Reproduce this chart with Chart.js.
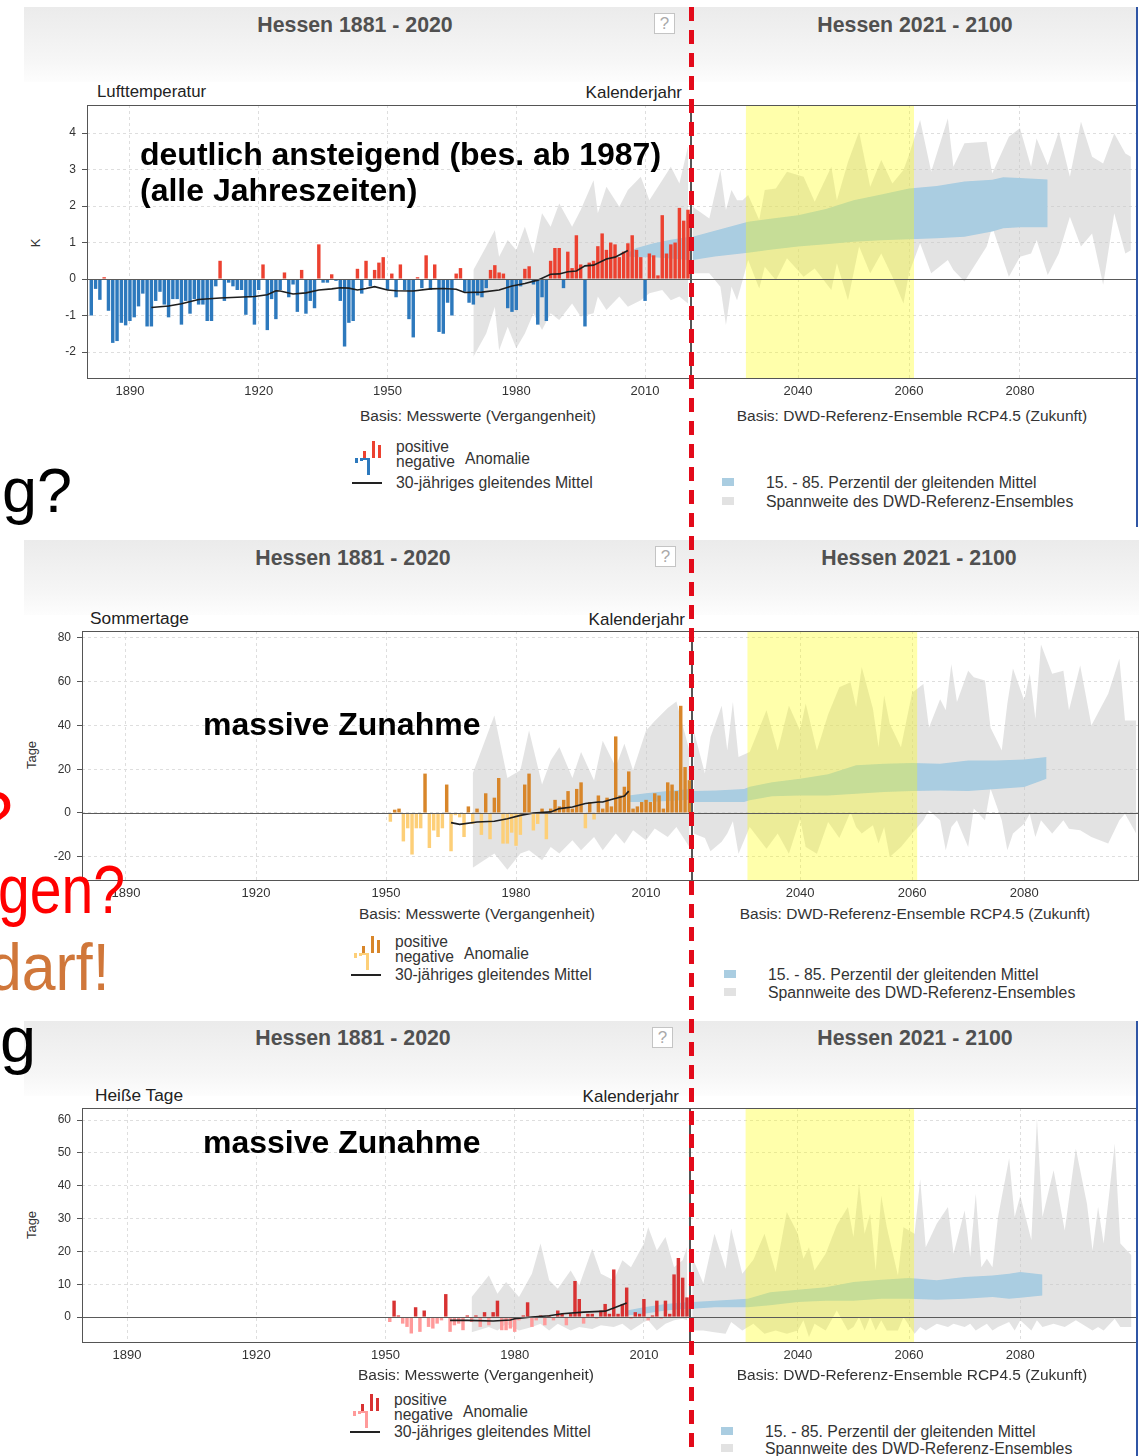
<!DOCTYPE html>
<html>
<head>
<meta charset="utf-8">
<script src="https://cdn.jsdelivr.net/npm/chart.js@4.4.0/dist/chart.umd.min.js"></script>
<style>
  body { margin: 0; width: 1145px; height: 1456px; position: relative; overflow: hidden; background: #fff;
         font-family: "Liberation Sans", Arial, sans-serif; }
  .t { position: absolute; white-space: nowrap; line-height: 1; }
  .qbox { position: absolute; width: 19px; height: 19px; border: 1px solid #c4c4c4; background: #fff;
          color: #aaa; font-size: 17px; line-height: 19px; text-align: center; }
  canvas { position: absolute; }
  .redline { position: absolute; left: 689px; top: 7px; width: 5px; height: 1449px;
             background: repeating-linear-gradient(to bottom, #e30a1a 0 14px, transparent 14px 23px); }
</style>
</head>
<body>
<script>
// --- Lufttemperatur (K), annual anomaly 1881-2020 ---
const tempAnom = [
  -1.0, -0.27, -0.57, 0.05, -0.87, -1.75, -1.7, -1.2, -1.27, -1.15,
  -1.05, -0.75, -0.4, -1.3, -1.3, -0.6, -0.35, -0.7, -1.05, -0.55,
  -0.55, -1.25, -0.6, -0.95, -0.55, -0.7, -0.7, -1.15, -1.15, -0.2,
  0.5, -0.6, -0.1, -0.2, -0.3, -0.3, -0.98, -0.5, -1.25, -0.3,
  0.4, -1.4, -0.55, -1.1, -0.3, 0.18, -0.5, -0.15, -0.9, 0.25,
  -0.95, -0.6, -0.8, 0.95, -0.1, -0.1, 0.13, -0.05, -0.6, -1.85,
  -1.2, -1.15, 0.28, -0.4, 0.5, -0.2, 0.25, 0.45, 0.6, -0.3,
  0.15, -0.5, 0.4, -0.3, -1.1, -1.6, 0.05, -0.25, 0.65, -0.3,
  0.4, -1.45, -1.5, -0.65, -1.0, 0.15, 0.3, -0.35, -0.65, -0.7,
  -0.45, -0.5, -0.25, 0.25, 0.38, 0.18, 0.15, -0.8, -0.9, -0.85,
  -0.2, 0.28, 0.35, -0.15, -1.25, -0.5, -1.15, 0.5, 0.85, 0.85,
  -0.25, 0.75, 0.3, 1.2, 0.4, -1.3, 0.45, 0.5, 0.9, 1.25,
  0.8, 1.0, 0.95, 0.6, 0.75, 0.98, 1.2, 0.8, 0.6, -0.6,
  0.7, 0.65, 0.1, 1.75, 0.7, 0.95, 1.0, 1.95, 1.6, 1.9
];
const tempYears = tempAnom.map((_, i) => 1881 + i);
const tempMeanYears = [1895, 1899, 1902, 1906, 1911, 1915, 1919, 1922, 1924, 1925, 1928, 1931, 1934, 1937, 1939,
  1941, 1943, 1945, 1947, 1950, 1952, 1956, 1960, 1963, 1966, 1968, 1972, 1976, 1979, 1982, 1985, 1988,
  1990, 1992, 1994, 1996, 1998, 2001, 2003, 2005, 2006];
const tempMean = [-0.78, -0.74, -0.68, -0.56, -0.52, -0.5, -0.48, -0.43, -0.32, -0.33, -0.41, -0.38, -0.3, -0.27, -0.24,
  -0.25, -0.3, -0.26, -0.21, -0.3, -0.32, -0.33, -0.27, -0.26, -0.28, -0.37, -0.36, -0.3, -0.19, -0.12, -0.03, 0.13,
  0.14, 0.2, 0.22, 0.36, 0.38, 0.55, 0.6, 0.72, 0.78];
const tempRangePastYears = [1970, 1973, 1975, 1976, 1978, 1980, 1982, 1984, 1986, 1988, 1990, 1993, 1995, 1998, 1999,
  2001, 2004, 2006, 2009, 2011, 2014, 2016, 2018, 2020];
const tempRangePastHi = [0.25, 0.89, 1.34, 0.61, 1.07, 0.79, 1.43, 0.7, 1.8, 1.43, 2.07, 1.43, 1.89, 2.71, 1.8,
  2.53, 1.98, 2.44, 2.8, 2.16, 2.71, 3.08, 2.62, 3.63];
const tempRangePastLo = [-2.13, -1.49, -0.76, -1.95, -1.31, -1.9, -1.49, -0.94, -1.4, -0.94, -1.12, -0.67, -1.03, -0.94, -0.48,
  -0.85, -0.48, -0.76, -0.58, -0.39, -0.3, -0.58, -0.48, -0.67];
const tempPctPastYears = [2006, 2008, 2012, 2016, 2020];
const tempPctPastHi = [0.72, 0.85, 0.98, 1.08, 1.15];
const tempPctPastLo = [0.62, 0.6, 0.6, 0.56, 0.52];
const tempRangeFutYears = [2021, 2024, 2026, 2027, 2028, 2029, 2030, 2031, 2033, 2034, 2036, 2038, 2041, 2043, 2046,
  2047, 2049, 2051, 2053, 2055, 2057, 2059, 2060, 2062, 2064, 2067, 2068, 2070, 2074, 2075, 2078, 2080, 2082, 2083,
  2085, 2087, 2089, 2091, 2093, 2095, 2097, 2099, 2100];
const tempRangeFutHi = [1.98, 1.66, 2.99, 1.89, 2.44, 2.16, 2.16, 2.3, 1.62, 2.44, 2.48, 2.94, 2.8, 2.12, 3.08,
  2.16, 3.21, 4.04, 2.53, 3.26, 2.62, 2.99, 3.4, 4.36, 2.94, 4.4, 3.08, 3.72, 3.76, 2.89, 3.9, 4.13, 3.08, 3.85,
  3.12, 4.04, 2.8, 4.31, 3.35, 3.17, 3.99, 3.44, 3.35];
const tempRangeFutLo = [0.16, 0.16, -0.21, -1.26, -0.21, -0.58, -0.03, 0.52, -0.26, 0.34, -0.03, 0.57, 0.06, 0.29, -0.3,
  0.43, -0.58, 0.89, 0.16, 0.7, 0.06, -0.67, 0.16, 0.98, 0.16, 0.52, 0.25, -0.07, 0.89, 1.43, 0.06, 0.61, 0.7, 1.07,
  0.11, 0.7, 1.71, 0.89, 1.25, -0.16, 1.8, 0.7, 0.79];
const tempPctFutYears = [2021, 2025, 2031, 2035, 2040, 2045, 2050, 2055, 2060, 2065, 2070, 2075, 2077, 2080, 2085];
const tempPctFutHi = [1.16, 1.32, 1.57, 1.65, 1.75, 1.92, 2.16, 2.32, 2.48, 2.55, 2.67, 2.72, 2.79, 2.77, 2.73];
const tempPctFutLo = [0.52, 0.62, 0.72, 0.8, 0.89, 0.95, 1.02, 1.06, 1.09, 1.12, 1.16, 1.3, 1.39, 1.42, 1.42];

// --- Sommertage (days), anomaly 1951-2020 ---
const summerAnom = [
  -4, 1.5, 2, -13, -7, -19, -7, -7, 18, -16,
  -8, -11, -7, 13, -17.5, -1, -2, -11, 3, -5,
  2, -10, 9, -12, 7, 16, -14, -14, -9, -15,
  -10, 13, 18, -8, -5, 2, -12, 2, 6, 3,
  6, 10, 2, 11, 14, -7, 5, -3, 8, 2,
  7, 3, 35, 8, 12, 19, 2, 3, 5, 6,
  5, 9, 8, 2, 14, 13, 10, 49, 21, 15
];
const summerYears = summerAnom.map((_, i) => 1951 + i);
const summerMeanYears = [1965, 1967, 1971, 1975, 1978, 1981, 1984, 1988, 1990, 1993, 1996, 1999, 2000, 2002, 2005, 2006];
const summerMean = [-4.4, -5.2, -4.1, -3.8, -2.6, -1.1, 0, 0.5, 2, 2.7, 4.3, 5, 5, 6.2, 7.8, 10];
const summerRangePastYears = [1970, 1975, 1978, 1981, 1983, 1986, 1988, 1990, 1993, 1995, 1998, 2000, 2003, 2005,
  2007, 2010, 2012, 2015, 2017, 2020];
const summerRangePastHi = [18, 44.6, 16, 19.5, 37.7, 13, 24, 30, 16, 27.9, 14.9, 33, 21, 31.7, 19.5, 37.7, 42, 48, 51, 28.6];
const summerRangePastLo = [-25, -18.5, -26, -18.5, -17, -21.6, -15.5, -18.5, -12.5, -17, -11, -17, -9.4, -14, -7.9,
  -12.5, -7.1, -11, -6.4, -15.5];
const summerPctPastYears = [2006, 2010, 2015, 2020];
const summerPctPastHi = [8, 9, 10, 11];
const summerPctPastLo = [5, 5, 5.5, 6];
const summerRangeFutYears = [2021, 2023, 2024, 2026, 2027, 2028, 2029, 2031, 2034, 2036, 2038, 2040, 2041, 2043, 2045,
  2047, 2049, 2050, 2051, 2053, 2054, 2055, 2056, 2058, 2060, 2062, 2063, 2065, 2066, 2067, 2068, 2070, 2071, 2073,
  2074, 2076, 2077, 2078, 2080, 2081, 2082, 2083, 2085, 2087, 2088, 2090, 2092, 2095, 2097, 2098, 2100];
const summerRangeFutHi = [37.7, 18, 34.7, 49, 28.6, 50.7, 25.6, 27.9, 47, 28.6, 49, 37.7, 50, 28.6, 45,
  57.5, 59.8, 48.4, 66.7, 47.6, 30, 53.7, 40.8, 30, 55, 59, 39, 52, 47, 68, 50.7, 65, 62, 60.6,
  39, 28.6, 50, 66, 51.4, 63.6, 43, 77, 63.6, 65, 47, 67.4, 40, 54.5, 70.5, 42.3, 42.3];
const summerRangeFutLo = [-9.4, -11.4, -17.5, -13.2, -9.4, -3.8, -18.6, -6.4, -16.3, -9.4, -18.6, -2.6, -15.5, -18.6, -4.1,
  -11.4, 0.5, -6.4, -9.4, -5.6, -14, -6.4, -20.1, -15.5, -9.4, -3.3, 1.2, -3.3, -17, -6.4, -3.3, -15.5, 2, -3.3,
  11.1, -3.3, -17, -9.4, -4.9, -0.3, -11, -3.3, -9.4, -3.3, -7.2, -7.9, -11, -14, -3.3, -0.3, -9.4];
const summerPctFutYears = [2021, 2025, 2030, 2031, 2035, 2040, 2045, 2050, 2055, 2060, 2065, 2070, 2075, 2080, 2084];
const summerPctFutHi = [10, 10.3, 11, 12, 14, 15.7, 17.7, 21.8, 22.5, 22.8, 22.5, 24, 24, 24.4, 25.6];
const summerPctFutLo = [5, 5, 5, 5.8, 7.6, 8, 8, 8.8, 9.6, 10, 10.3, 10, 11, 11.9, 15.7];

// --- Heiße Tage (days), anomaly 1951-2020 ---
const hotAnom = [
  -1.5, 5, 0.5, -2, -3, -5, 3, -4.5, 2, -3,
  -3.5, -2, -1, 7, -4.5, -2.5, -2, -4, 0.5, -1.5,
  0.5, -3, 1.5, -2.5, 1.5, 5, -4, -4, -3.5, -4.5,
  -1, 0.5, 4.5, -3, -1, 0.5, -2.5, 0.5, -1, 2,
  1, -2.5, 1, 11, 5.5, -2, 1, 1, -0.5, 2,
  4, 1, 14.5, 1, 4, 9, -0.5, 1.5, 1, 5.5,
  -1, 0.5, 5, -0.5, 5, 1, 13, 18, 12, 6
];
const hotYears = hotAnom.map((_, i) => 1951 + i);
const hotMeanYears = [1965, 1969, 1975, 1979, 1980, 1984, 1988, 1991, 1996, 2001, 2003, 2006];
const hotMean = [-1, -1, -1.2, -0.9, -0.5, 0, 0.4, 1, 1.5, 1.8, 2.8, 4.3];
const hotRangePastYears = [1970, 1974, 1976, 1978, 1981, 1984, 1986, 1988, 1990, 1993, 1995, 1998, 2000, 2003, 2005,
  2007, 2010, 2011, 2013, 2015, 2017, 2019, 2020];
const hotRangePastHi = [6.1, 12.7, 7.1, 10.7, 6.1, 13.2, 22.4, 11.2, 8.6, 14.2, 9.7, 20.8, 13.2, 11.2, 17.3,
  15.2, 22.4, 27.4, 20.3, 24.4, 15.2, 17.3, 21.3];
const hotRangePastLo = [-4.6, -3, -4.1, -2, -4.1, -3, -2, -4.1, -2, -4.1, -3, -3.6, -2.5, -3, -2,
  -4.1, -1.5, -1, -4.1, -2, -1, -0.5, -1];
const hotPctPastYears = [2006, 2010, 2015, 2020];
const hotPctPastHi = [2, 3, 4, 4.5];
const hotPctPastLo = [0.5, 1, 2, 2.5];
const hotRangeFutYears = [2021, 2023, 2025, 2027, 2028, 2030, 2032, 2034, 2036, 2038, 2040, 2041, 2042, 2043, 2045,
  2047, 2049, 2050, 2051, 2052, 2053, 2054, 2055, 2056, 2058, 2059, 2061, 2062, 2063, 2065, 2067, 2068, 2070, 2071,
  2072, 2073, 2074, 2075, 2076, 2078, 2079, 2080, 2082, 2083, 2084, 2086, 2088, 2090, 2092, 2093, 2094, 2095, 2097,
  2098, 2100];
const hotRangeFutHi = [18.3, 10.2, 25.4, 14.7, 27, 13.2, 17.5, 25.4, 13.7, 32, 25.4, 17.8, 21.3, 14.2, 19.3,
  28, 33.5, 24.4, 40.7, 25.4, 31.5, 14.2, 37, 27.4, 12.7, 27.4, 25.4, 42, 21.3, 28.5, 33.5, 19.3, 32.5, 18.3,
  37.6, 15.2, 17.8, 15.2, 30.5, 48.3, 30.5, 37, 23.4, 60.5, 30.5, 44.7, 26.4, 51.3, 34.5, 20.3, 33.5, 22.4, 52.8,
  22.4, 18.8];
const hotRangeFutLo = [-4.1, -4.1, -4.6, -5.1, -1.5, -4.1, -2, -5.1, -4.1, -5.1, -4.1, -1, -6.1, -2, -4.1,
  2, -4.1, -3, 0, -4.1, 0, -4.1, -1, -4.1, -4.1, 0, -5.1, -3, -4.1, -2, -3, -2, -3, -2,
  -4.1, -3, -2, -4.1, -3, -1.5, -4.1, -1, -4.1, -1, -3, -2, -3, -1, -3, -4.1, -3, -4.1, -0.5,
  -3, -3];
const hotPctFutYears = [2021, 2025, 2031, 2035, 2040, 2045, 2050, 2055, 2060, 2065, 2070, 2075, 2078, 2080, 2084];
const hotPctFutHi = [4.6, 5, 5.6, 7.6, 8.3, 9.1, 10.7, 11.4, 11.9, 11.2, 12.2, 12.7, 13.2, 13.7, 13];
const hotPctFutLo = [2.5, 3, 3, 3.6, 4.6, 5, 5, 5.6, 5.6, 5.3, 5.6, 6.1, 5.6, 5.9, 6.6];

// --- ticks and highlighted period ---
const pastTicks = [1890, 1920, 1950, 1980, 2010];
const futTicks = [2040, 2060, 2080];
const tempTicks = [-2, -1, 0, 1, 2, 3, 4];
const summerTicks = [-20, 0, 20, 40, 60, 80];
const hotTicks = [0, 10, 20, 30, 40, 50, 60];
const nearFuture = [2031, 2060];

Chart.defaults.font.family = '"Liberation Sans", Arial, sans-serif';

const GREY = 'rgba(200,200,200,0.5)';
const BLUE = '#aacde1';
const PAD_TOP = 8;

function txt(s, x, base, size, o = {}) {
  const d = document.createElement('div');
  d.className = 't';
  d.textContent = s;
  d.style.fontSize = size + 'px';
  d.style.left = x + 'px';
  d.style.top = (base - 0.8465 * size) + 'px';
  d.style.color = o.color || '#333';
  if (o.bold) d.style.fontWeight = 'bold';
  if (o.align === 'center') d.style.transform = 'translateX(-50%)';
  if (o.align === 'right') d.style.transform = 'translateX(-100%)';
  if (o.squeeze) { d.style.transformOrigin = '0 0'; d.style.transform = 'scaleX(' + o.squeeze + ')'; }
  if (o.rotate) { d.style.transform = 'translate(-50%,-50%) rotate(-90deg)'; d.style.top = base + 'px'; }
  document.body.appendChild(d);
  return d;
}

function box(x, y, w, h, css) {
  const d = document.createElement('div');
  d.style.position = 'absolute';
  d.style.left = x + 'px'; d.style.top = y + 'px';
  d.style.width = w + 'px'; d.style.height = h + 'px';
  Object.assign(d.style, css || {});
  document.body.appendChild(d);
  return d;
}

function band(years, hi, lo, color, order) {
  return [
    { type: 'line', data: years.map((x, i) => ({ x, y: hi[i] })), fill: '+1', backgroundColor: color,
      borderColor: 'rgba(0,0,0,0)', borderWidth: 0, pointRadius: 0, tension: 0, order },
    { type: 'line', data: years.map((x, i) => ({ x, y: lo[i] })), fill: false,
      borderColor: 'rgba(0,0,0,0)', borderWidth: 0, pointRadius: 0, tension: 0, order }
  ];
}

// yellow period box, zero line and plot frame
const overlay = {
  id: 'overlay',
  afterDatasetsDraw(chart, args, opts) {
    const { ctx, chartArea: a, scales: { x, y } } = chart;
    ctx.save();
    if (opts.period) {
      const x0 = x.getPixelForValue(opts.period[0] - 0.4);
      const x1 = x.getPixelForValue(opts.period[1] + 0.9);
      ctx.fillStyle = 'rgba(255,255,0,0.33)';
      ctx.fillRect(x0, a.top, x1 - x0, a.bottom - a.top);
    }
    const y0 = Math.round(y.getPixelForValue(0)) + 0.5;
    ctx.strokeStyle = '#5a5a5a';
    ctx.lineWidth = 1.2;
    ctx.beginPath(); ctx.moveTo(a.left, y0); ctx.lineTo(a.right, y0); ctx.stroke();
    ctx.strokeStyle = '#555';
    ctx.lineWidth = 1;
    ctx.strokeRect(a.left + 0.5, a.top + 0.5, a.right - a.left - 1, a.bottom - a.top - 1);
    ctx.restore();
  }
};

function noPad(s) { s.paddingTop = 0; s.paddingBottom = 0; s.paddingLeft = 0; s.paddingRight = 0; }

function makeChart(left, top, width, height, datasets, xr, xt, yr, yt, showY, period) {
  const c = document.createElement('canvas');
  c.width = width; c.height = height;
  c.style.left = left + 'px'; c.style.top = top + 'px';
  c.style.width = width + 'px'; c.style.height = height + 'px';
  document.body.appendChild(c);
  return new Chart(c.getContext('2d'), {
    type: 'bar',
    data: { datasets },
    options: {
      responsive: false, animation: false, events: [],
      layout: { padding: { top: PAD_TOP, right: showY ? 0 : 1, left: 0, bottom: 0 } },
      plugins: { legend: { display: false }, tooltip: { enabled: false }, overlay: { period } },
      scales: {
        x: {
          type: 'linear', min: xr[0], max: xr[1], offset: false,
          afterBuildTicks: s => { s.ticks = xt.map(v => ({ value: v })); },
          afterFit: s => { s.height = 24; noPad(s); },
          ticks: { color: '#333', font: { size: 13 }, padding: 5, maxRotation: 0, autoSkip: false, callback: v => String(v) },
          grid: { color: '#dedede', drawTicks: false, offset: false },
          border: { display: false, dash: [3, 3] }
        },
        y: {
          type: 'linear', min: yr[0], max: yr[1],
          afterBuildTicks: s => { s.ticks = yt.map(v => ({ value: v })); },
          afterFit: s => { s.width = showY ? 60 : 0; noPad(s); },
          ticks: { display: showY, color: '#333', font: { size: 12 }, padding: 6, callback: v => String(v) },
          grid: { color: '#dedede', drawTicks: showY, tickLength: 5, tickColor: '#555' },
          border: { display: false, dash: [3, 3] }
        }
      }
    },
    plugins: [overlay]
  });
}

function panel(p) {
  const g = p.plot;
  const h = g.bottom - g.top + PAD_TOP + 24;
  const pastSets = [
    { type: 'line', data: p.meanYears.map((x, i) => ({ x, y: p.mean[i] })), borderColor: '#1e1e1e', borderWidth: 1.6,
      pointRadius: 0, tension: 0, fill: false, order: 0 },
    { type: 'bar', data: p.years.map((x, i) => ({ x, y: p.anom[i] })),
      backgroundColor: ctx => (ctx.raw && ctx.raw.y >= 0) ? p.pos : p.neg,
      barPercentage: 0.8, categoryPercentage: 1, borderWidth: 0, order: 1 },
    ...band(p.pctPast[0], p.pctPast[1], p.pctPast[2], BLUE, 2),
    ...band(p.rangePast[0], p.rangePast[1], p.rangePast[2], GREY, 3)
  ];
  makeChart(g.left - 60, g.top - PAD_TOP, g.mid - g.left + 60, h, pastSets, p.xPast, pastTicks, p.yr, p.yTicks, true, null);
  const futSets = [
    ...band(p.pctFut[0], p.pctFut[1], p.pctFut[2], BLUE, 2),
    ...band(p.rangeFut[0], p.rangeFut[1], p.rangeFut[2], GREY, 3)
  ];
  makeChart(g.mid, g.top - PAD_TOP, g.right - g.mid + 1, h, futSets, p.xFut, futTicks, p.yr, p.yTicks, false, nearFuture);
}

function legend(x, base, pos, neg, meanBase, rx, rBase1, rBase2) {
  // little anomaly icon
  [[0, 3, 5, neg], [5, 3, 3, neg], [12, 3, 17, neg], [8, 3, -7, pos], [17, 3, -17, pos], [23, 3, -13, pos]]
    .forEach(([dx, w, hh, col]) => {
      box(x + dx, hh > 0 ? base : base + hh, w, Math.abs(hh), { background: col });
    });
  box(x + 6, base, 9, 2, { background: neg });
  txt('positive', x + 41, base - 6, 15.6, { color: '#333' });
  txt('negative', x + 41, base + 9, 15.6, { color: '#333' });
  txt('Anomalie', x + 110, base + 6, 15.6, { color: '#333' });
  box(x - 3, meanBase - 6, 30, 1.6, { background: '#222' });
  txt('30-jähriges gleitendes Mittel', x + 41, meanBase, 15.8, { color: '#333' });
  box(rx, rBase1 - 10, 12, 8, { background: BLUE });
  box(rx, rBase2 - 10, 12, 8, { background: '#e2e2e2' });
  txt('15. - 85. Perzentil der gleitenden Mittel', rx + 44, rBase1, 15.8, { color: '#333' });
  txt('Spannweite des DWD-Referenz-Ensembles', rx + 44, rBase2, 15.8, { color: '#333' });
}

function header(top, right, titleBase, qx, cl, cr) {
  box(24, top, right - 24, 75, { background: 'linear-gradient(to bottom, #ebebeb 0%, #f6f6f6 70%, #fdfdfd 100%)' });
  txt('Hessen 1881 - 2020', cl, titleBase, 21.3, { bold: true, color: '#505050', align: 'center' });
  txt('Hessen 2021 - 2100', cr, titleBase, 21.3, { bold: true, color: '#505050', align: 'center' });
  const q = box(qx, top + 6, 19, 19, {});
  q.className = 'qbox';
  q.textContent = '?';
}

// ---------- panel 1 : Lufttemperatur ----------
header(7, 1137, 33, 654, 355, 915);
txt('Lufttemperatur', 97, 98, 16.8, { color: '#222' });
txt('Kalenderjahr', 682, 98, 17, { color: '#222', align: 'right' });
txt('K', 35, 243, 13, { color: '#333', rotate: true });
panel({
  plot: { left: 87, mid: 691, right: 1137, top: 105, bottom: 379 },
  yr: [-2.74, 4.77], yTicks: tempTicks, xPast: [1880, 2020.7], xFut: [2020.7, 2101.1],
  pos: '#ec4130', neg: '#2d79bd',
  years: tempYears, anom: tempAnom, meanYears: tempMeanYears, mean: tempMean,
  rangePast: [tempRangePastYears, tempRangePastHi, tempRangePastLo],
  pctPast: [tempPctPastYears, tempPctPastHi, tempPctPastLo],
  rangeFut: [tempRangeFutYears, tempRangeFutHi, tempRangeFutLo],
  pctFut: [tempPctFutYears, tempPctFutHi, tempPctFutLo]
});
txt('Basis: Messwerte (Vergangenheit)', 478, 421, 15.5, { align: 'center' });
txt('Basis: DWD-Referenz-Ensemble RCP4.5 (Zukunft)', 912, 421, 15.5, { align: 'center' });
legend(355, 458, '#ec4130', '#2d79bd', 488, 722, 488, 507);
txt('deutlich ansteigend (bes. ab 1987)', 140, 165, 32, { bold: true, color: '#000' });
txt('(alle Jahreszeiten)', 140, 201, 32, { bold: true, color: '#000' });

// ---------- panel 2 : Sommertage ----------
header(540, 1139, 566, 655, 353, 919);
txt('Sommertage', 90, 625, 17.3, { color: '#222' });
txt('Kalenderjahr', 685, 625, 17, { color: '#222', align: 'right' });
txt('Tage', 31, 755, 13, { color: '#333', rotate: true });
panel({
  plot: { left: 82, mid: 692, right: 1139, top: 631, bottom: 881 },
  yr: [-31.1, 83.2], yTicks: summerTicks, xPast: [1879.85, 2020.6], xFut: [2020.7, 2100.5],
  pos: '#d8862a', neg: '#fdcf78',
  years: summerYears, anom: summerAnom, meanYears: summerMeanYears, mean: summerMean,
  rangePast: [summerRangePastYears, summerRangePastHi, summerRangePastLo],
  pctPast: [summerPctPastYears, summerPctPastHi, summerPctPastLo],
  rangeFut: [summerRangeFutYears, summerRangeFutHi, summerRangeFutLo],
  pctFut: [summerPctFutYears, summerPctFutHi, summerPctFutLo]
});
txt('Basis: Messwerte (Vergangenheit)', 477, 919, 15.5, { align: 'center' });
txt('Basis: DWD-Referenz-Ensemble RCP4.5 (Zukunft)', 915, 919, 15.5, { align: 'center' });
legend(354, 953, '#d8862a', '#fdcf78', 980, 724, 980, 998);
txt('massive Zunahme', 203, 735, 32, { bold: true, color: '#000' });

// ---------- panel 3 : Heiße Tage ----------
header(1021, 1137, 1046, 652, 353, 915);
txt('Heiße Tage', 95, 1102, 17.3, { color: '#222' });
txt('Kalenderjahr', 679, 1102, 17, { color: '#222', align: 'right' });
txt('Tage', 31, 1225, 13, { color: '#333', rotate: true });
panel({
  plot: { left: 82, mid: 690, right: 1137, top: 1108, bottom: 1343 },
  yr: [-7.9, 63.7], yTicks: hotTicks, xPast: [1879.55, 2020.7], xFut: [2020.6, 2101],
  pos: '#d83232', neg: '#ff9a9a',
  years: hotYears, anom: hotAnom, meanYears: hotMeanYears, mean: hotMean,
  rangePast: [hotRangePastYears, hotRangePastHi, hotRangePastLo],
  pctPast: [hotPctPastYears, hotPctPastHi, hotPctPastLo],
  rangeFut: [hotRangeFutYears, hotRangeFutHi, hotRangeFutLo],
  pctFut: [hotPctFutYears, hotPctFutHi, hotPctFutLo]
});
txt('Basis: Messwerte (Vergangenheit)', 476, 1380, 15.5, { align: 'center' });
txt('Basis: DWD-Referenz-Ensemble RCP4.5 (Zukunft)', 912, 1380, 15.5, { align: 'center' });
legend(353, 1411, '#d83232', '#ff9a9a', 1437, 721, 1437, 1454);
txt('massive Zunahme', 203, 1153, 32, { bold: true, color: '#000' });

// ---------- slide fragments, divider and frame lines ----------
txt('g?', 2, 512, 63, { color: '#000' });
txt('?', -26, 841, 70, { color: '#ff0000' });
txt('gen?', -2, 913, 68, { color: '#ff0000', squeeze: 0.84 });
txt('darf!', -12, 990, 66, { color: '#d0773a', squeeze: 0.92 });
txt('g', 0, 1062, 65, { color: '#000' });
box(1136, 7, 2, 520, { background: '#2f55a5' });
box(1136, 1021, 2, 435, { background: '#2f55a5' });
const rl = document.createElement('div');
rl.className = 'redline';
document.body.appendChild(rl);
</script>
</body>
</html>
